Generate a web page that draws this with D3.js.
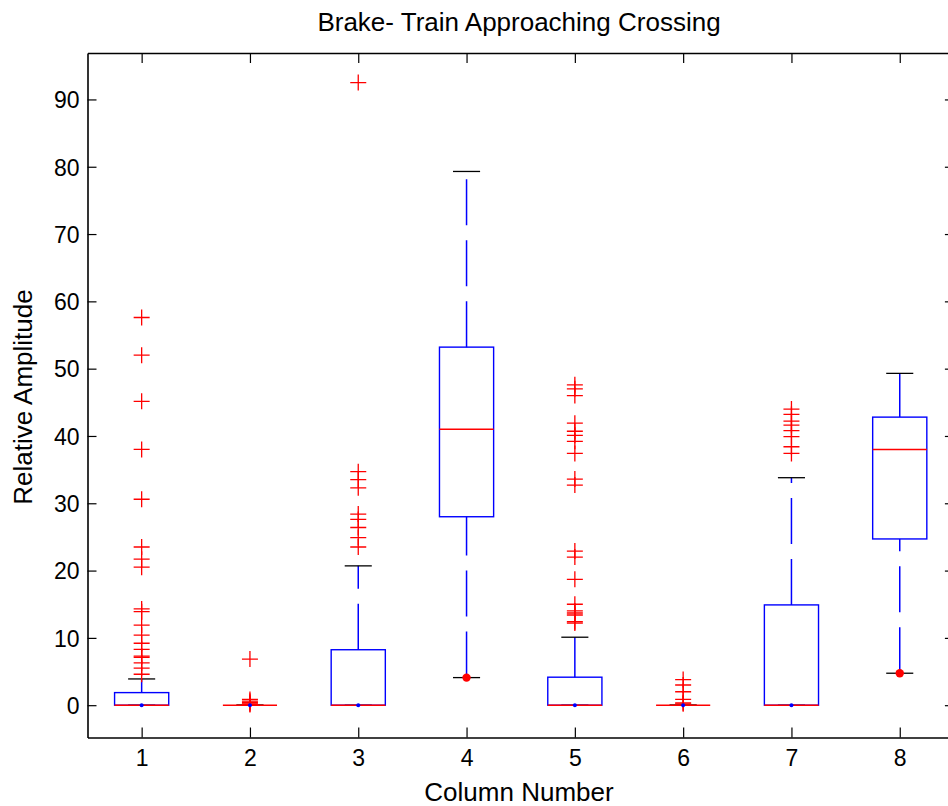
<!DOCTYPE html>
<html>
<head>
<meta charset="utf-8">
<script src="https://cdn.jsdelivr.net/npm/d3@7"></script>
<style>
  html, body { margin: 0; padding: 0; background: #fff; }
  svg { display: block; font-family: "Liberation Sans", Arial, sans-serif; }
</style>
</head>
<body>
<svg id="chart" width="948" height="806"></svg>
<script>
// Box plot summary per column
const columns    = [1, 2, 3, 4, 5, 6, 7, 8];
const q1         = [0, 0, 0, 28.0, 0, 0, 0, 24.7];
const medians    = [0, 0, 0, 41.0, 0, 0, 0, 38.0];
const q3         = [1.87, 0, 8.24, 53.2, 4.16, 0, 14.9, 42.8];
const whiskerLow = [0, 0, 0, 4.1, 0, 0, 0, 4.75];
const whiskerHigh= [3.9, 0, 20.7, 79.3, 10.1, 0, 33.8, 49.3];

// Points beyond the whiskers
const outliers = [
  [57.6, 52.0, 45.15, 38.0, 30.6, 23.5, 21.7, 20.5, 14.3, 13.9, 11.9, 10.4, 9.2, 8.3, 7.3, 7.1, 6.3, 5.5, 4.6],
  [6.85, 0.85, 0.6, 0.4, 0.2, 0.1],
  [92.5, 34.7, 33.5, 32.3, 28.4, 27.6, 26.4, 24.9, 23.5],
  [],
  [47.6, 47.0, 46.0, 41.9, 40.7, 40.1, 39.2, 37.4, 33.6, 32.7, 22.9, 22.0, 18.7, 15.0, 14.0, 13.7, 13.4, 12.4, 12.2],
  [3.8, 3.0, 2.0, 0.85, 0.35, 0.2],
  [44.0, 43.2, 42.2, 41.6, 40.8, 39.9, 38.4, 37.4],
  []
];

const yTicks = [0, 10, 20, 30, 40, 50, 60, 70, 80, 90];
const titleText = "Brake- Train Approaching Crossing";
const xLabel = "Column Number";
const yLabel = "Relative Amplitude";

const svg = d3.select("#chart");
const plotLeft = 87.5, plotRight = 953.9, plotTop = 53, plotBottom = 737.5;

const x = d3.scaleLinear().domain([0.5, 8.5]).range([plotLeft, plotRight]);
const y = d3.scaleLinear().domain([-4.8, 96.9]).range([plotBottom, plotTop]);

const BLUE = "#0000ff", RED = "#ff0000";
const boxHalf = 0.25, capHalf = 0.125;

// Axes: ticks point inward on all four sides
const tickFont = 23, labelFont = 26;
const axL = svg.append("g").attr("transform", `translate(${plotLeft},0)`)
  .call(d3.axisLeft(y).tickValues(yTicks).tickSizeInner(-9).tickSizeOuter(0).tickPadding(8));
const axR = svg.append("g").attr("transform", `translate(${plotRight},0)`)
  .call(d3.axisRight(y).tickValues(yTicks).tickSizeInner(-9).tickSizeOuter(0).tickFormat(""));
const axB = svg.append("g").attr("transform", `translate(0,${plotBottom})`)
  .call(d3.axisBottom(x).tickValues(columns).tickSizeInner(-10).tickSizeOuter(0).tickPadding(12));
const axT = svg.append("g").attr("transform", `translate(0,${plotTop})`)
  .call(d3.axisTop(x).tickValues(columns).tickSizeInner(-10).tickSizeOuter(0).tickFormat(""));

[axL, axR, axB, axT].forEach(g => {
  g.selectAll(".domain").attr("stroke", "#000").attr("stroke-width", 1.6);
  g.selectAll(".tick line").attr("stroke", "#000").attr("stroke-width", 1.2);
  g.selectAll("text").attr("font-size", tickFont).attr("fill", "#000")
    .attr("font-family", "Liberation Sans, Arial, sans-serif");
});
axL.selectAll("text").attr("dy", "0.36em");

// Plot body
const g = svg.append("g");

columns.forEach((c, i) => {
  const cx = x(c);
  // whiskers, dashes run upward from the lower end
  const dash = "46,15";
  if (whiskerHigh[i] > q3[i]) {
    g.append("line").attr("x1", cx).attr("x2", cx)
      .attr("y1", y(q3[i])).attr("y2", y(whiskerHigh[i]))
      .attr("stroke", BLUE).attr("stroke-width", 1.5).attr("stroke-dasharray", dash);
  }
  if (whiskerLow[i] < q1[i]) {
    g.append("line").attr("x1", cx).attr("x2", cx)
      .attr("y1", y(whiskerLow[i])).attr("y2", y(q1[i]))
      .attr("stroke", BLUE).attr("stroke-width", 1.5).attr("stroke-dasharray", dash);
  }
  // whisker caps
  [whiskerLow[i], whiskerHigh[i]].forEach(v => {
    g.append("line")
      .attr("x1", x(c - capHalf)).attr("x2", x(c + capHalf))
      .attr("y1", y(v)).attr("y2", y(v))
      .attr("stroke", "#000").attr("stroke-width", 1.3);
  });
  // box
  g.append("rect")
    .attr("x", x(c - boxHalf)).attr("width", x(c + boxHalf) - x(c - boxHalf))
    .attr("y", y(q3[i])).attr("height", Math.max(0, y(q1[i]) - y(q3[i])))
    .attr("fill", "none").attr("stroke", BLUE).attr("stroke-width", 1.4);
  // median
  g.append("line")
    .attr("x1", x(c - boxHalf)).attr("x2", x(c + boxHalf))
    .attr("y1", y(medians[i])).attr("y2", y(medians[i]))
    .attr("stroke", RED).attr("stroke-width", 1.4);
  // outliers as '+'
  outliers[i].forEach(v => {
    const py = y(v);
    g.append("path")
      .attr("d", `M${cx - 8},${py}H${cx + 8}M${cx},${py - 8}V${py + 8}`)
      .attr("stroke", RED).attr("stroke-width", 1.3).attr("fill", "none");
  });
  // marker at the lower whisker end
  const low = whiskerLow[i];
  g.append("circle")
    .attr("cx", cx).attr("cy", y(low))
    .attr("r", low > 0 ? 4.2 : 2)
    .attr("fill", low > 0 ? RED : BLUE);
});

// Titles
svg.append("text").attr("x", 519).attr("y", 31)
  .attr("text-anchor", "middle").attr("font-size", labelFont).text(titleText);
svg.append("text").attr("x", 519).attr("y", 801)
  .attr("text-anchor", "middle").attr("font-size", labelFont).text(xLabel);
svg.append("text")
  .attr("transform", `translate(32,397) rotate(-90)`)
  .attr("text-anchor", "middle").attr("font-size", labelFont).text(yLabel);
</script>
</body>
</html>
